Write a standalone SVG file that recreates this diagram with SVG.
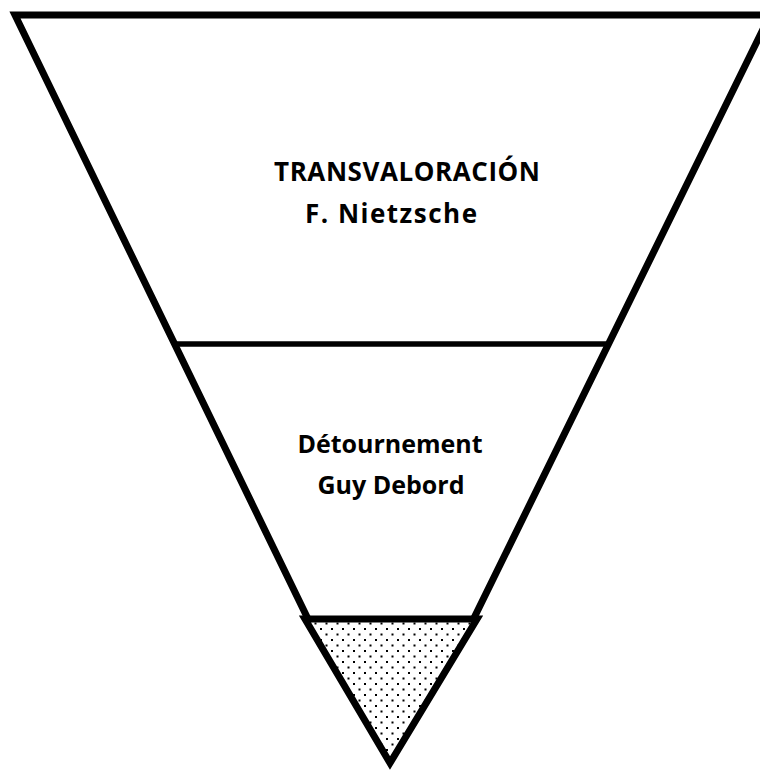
<svg xmlns="http://www.w3.org/2000/svg" width="760" height="774" viewBox="0 0 760 774">
  <style>
    .edge { stroke: #000; stroke-width: 7; stroke-linejoin: miter; stroke-miterlimit: 10; }
    .open { fill: none; }
    .dotted { fill: url(#dots); }
    .divider { fill: none; stroke: #000; stroke-width: 5.5; }
    .label { font-family: "Open Sans", "Liberation Sans", sans-serif; font-weight: bold; font-size: 26px; fill: #000; text-anchor: middle; }
    .small { font-size: 25px; }
  </style>
  <defs>
    <!-- sparse dot fill for the bottom tip -->
    <pattern id="dots" width="11" height="11" patternUnits="userSpaceOnUse">
      <rect x="1" y="1" width="2" height="2" fill="#000"/>
      <rect x="6.5" y="6.5" width="2" height="2" fill="#000"/>
    </pattern>
  </defs>
  <rect width="760" height="774" fill="#fff"/>

  <g id="funnel-outline">
    <path class="edge open" d="M308,619 L15,15 L770,15 L473.5,619"/>
  </g>

  <g id="connectors">
    <line class="divider" x1="176" y1="344" x2="607" y2="344"/>
  </g>

  <g id="tier-top">
    <text class="label" x="407" y="181" textLength="266" lengthAdjust="spacing">TRANSVALORACIÓN</text>
    <text class="label" x="391" y="223" textLength="172" lengthAdjust="spacing">F. Nietzsche</text>
  </g>

  <g id="tier-middle">
    <text class="label small" x="390" y="453">Détournement</text>
    <text class="label small" x="391" y="494">Guy Debord</text>
  </g>

  <g id="tier-tip">
    <path class="edge dotted" d="M305,619 L477,619 L390,763 Z"/>
  </g>
</svg>
